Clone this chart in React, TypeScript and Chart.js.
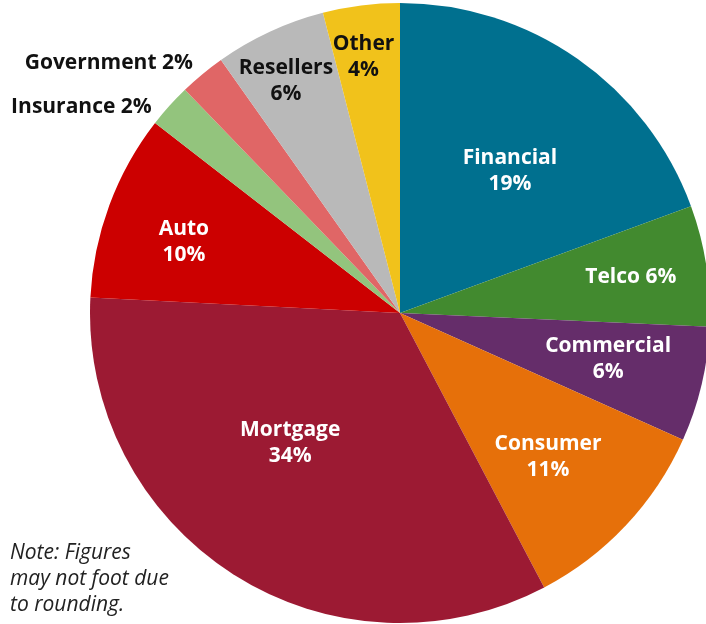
import React, { useEffect, useRef } from "react";
import { Chart, registerables } from "chart.js";

Chart.register(...registerables);

const categories = ["Financial", "Telco", "Commercial", "Consumer", "Mortgage", "Auto", "Insurance", "Government", "Resellers", "Other"];
const shares = [19.4, 6.3, 6.0, 10.6, 33.5, 9.7, 2.3, 2.4, 5.8, 4.0];
const colors = ["#00708F", "#428A2F", "#652D6A", "#E6700A", "#9C1A33", "#CC0000", "#93C47D", "#E06666", "#B9B9B9", "#F1C21B"];
const noteLines = ["Note: Figures", "may not foot due", "to rounding."];

// label layout (style, not data)
const labelStyle = [
  { r: 0.58, dx: 7, dy: 5, one: false, color: "#fff", align: "center" },
  { r: 0.76, dx: -2, dy: 0, one: true, color: "#fff", align: "center" },
  { r: 0.69, dx: 0, dy: -3, one: false, color: "#fff", align: "center" },
  { r: 0.655, dx: 0, dy: 5, one: false, color: "#fff", align: "center" },
  { r: 0.49, dx: -28, dy: 2, one: false, color: "#fff", align: "center" },
  { r: 0.74, dx: -1, dy: 9, one: false, color: "#fff", align: "center" },
  { r: 1.042, dx: -8, dy: 10, one: true, color: "#111", align: "right" },
  { r: 1.048, dx: 0, dy: 0, one: true, color: "#111", align: "right" },
  { r: 0.83, dx: -6, dy: 2, one: false, color: "#111", align: "center" },
  { r: 0.835, dx: -4, dy: 1, one: false, color: "#111", align: "center" },
];

const labelPlugin = {
  id: "sliceLabels",
  afterDatasetsDraw(chart: any) {
    const ctx = chart.ctx;
    const meta = chart.getDatasetMeta(0);
    ctx.save();
    ctx.font = "bold 21px 'Open Sans'";
    ctx.textBaseline = "middle";
    meta.data.forEach((arc: any, i: number) => {
      const p = arc.getProps(["x", "y", "startAngle", "endAngle", "outerRadius"], true);
      const mid = (p.startAngle + p.endAngle) / 2;
      const st = labelStyle[i];
      const x = p.x + Math.cos(mid) * p.outerRadius * st.r + st.dx;
      const y = p.y + Math.sin(mid) * p.outerRadius * st.r + st.dy;
      const pct = Math.round(shares[i]) + "%";
      ctx.fillStyle = st.color;
      ctx.textAlign = st.align;
      if (st.one) {
        ctx.fillText(categories[i] + " " + pct, x, y);
      } else {
        ctx.fillText(categories[i], x, y - 13);
        ctx.fillText(pct, x, y + 13);
      }
    });
    ctx.restore();
  },
};

export default function App() {
  const ref = useRef<HTMLCanvasElement>(null);
  useEffect(() => {
    if (!ref.current) return;
    const chart = new Chart(ref.current, {
      type: "pie",
      data: {
        labels: categories,
        datasets: [{ data: shares, backgroundColor: colors, borderWidth: 0 }],
      },
      options: {
        responsive: false,
        animation: false,
        layout: { padding: { left: 90, right: 10, top: 3, bottom: 1 } },
        plugins: { legend: { display: false }, tooltip: { enabled: false } },
      },
      plugins: [labelPlugin],
    });
    return () => chart.destroy();
  }, []);
  return (
    <div style={{ position: "fixed", left: 0, top: 0, width: 706, height: 624, overflow: "hidden", background: "#fff" }}>
      <canvas ref={ref} width={720} height={624} style={{ width: 720, height: 624, display: "block" }} />
      <div style={{ position: "absolute", left: 10, top: 538, fontFamily: "'Open Sans'", fontStyle: "italic", fontSize: 21, lineHeight: "26px", color: "#222" }}>
        {noteLines.map((l, i) => (
          <div key={i}>{l}</div>
        ))}
      </div>
    </div>
  );
}
